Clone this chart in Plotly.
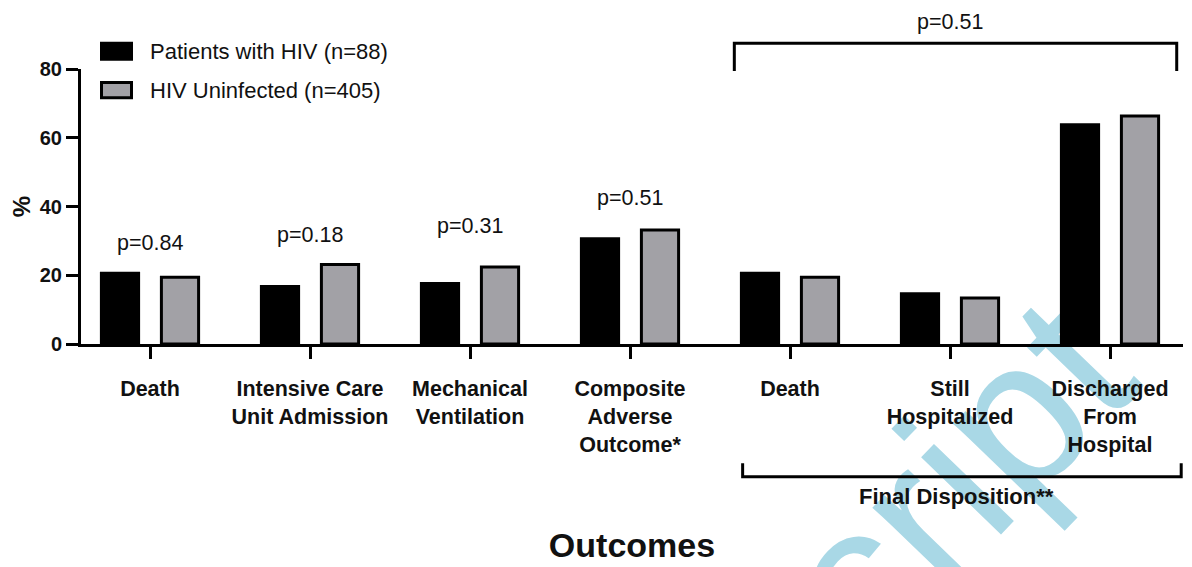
import plotly.graph_objects as go

categories = [
    "Death",
    "Intensive Care<br>Unit Admission",
    "Mechanical<br>Ventilation",
    "Composite<br>Adverse<br>Outcome*",
    "Death",
    "Still<br>Hospitalized",
    "Discharged<br>From<br>Hospital",
]
hiv_values = [20.6, 16.7, 17.6, 30.6, 20.6, 14.6, 63.8]
uninfected_values = [19.4, 23.1, 22.4, 33.2, 19.4, 13.4, 66.3]
series_names = ["Patients with HIV (n=88)", "HIV Uninfected (n=405)"]
p_labels = ["p=0.84", "p=0.18", "p=0.31", "p=0.51"]
p_label_y = [29.5, 31.6, 34.3, 42.6]
disposition_p = "p=0.51"
y_ticks = [0, 20, 40, 60, 80]

FONT = "Liberation Sans, Arial, Helvetica, sans-serif"
BLACK = "#000000"
GRAY = "#a2a1a6"
TXT = "#111111"

x_pos = list(range(len(categories)))

# page offset (browser body margin) and figure geometry
OFF = 8
W, H = 1184, 559
L, R, T, B = 73, 9, 61, 223
pw, ph = W - L - R, H - T - B
STEP = 160  # pixels per category


def px(sx):
    """screen x -> paper x"""
    return (sx - OFF - L) / pw


def py(sy):
    """screen y -> paper y"""
    return (H - B - (sy - OFF)) / ph


fig = go.Figure()
fig.add_trace(go.Bar(
    x=x_pos, y=hiv_values, name=series_names[0],
    marker=dict(color=BLACK, line=dict(color=BLACK, width=3)),
    showlegend=False,
))
fig.add_trace(go.Bar(
    x=x_pos, y=uninfected_values, name=series_names[1],
    marker=dict(color=GRAY, line=dict(color=BLACK, width=3)),
    showlegend=False,
))

annotations = []
for i, (lab, yv) in enumerate(zip(p_labels, p_label_y)):
    annotations.append(dict(
        text=lab, x=i, y=yv, xref="x", yref="y", showarrow=False,
        xanchor="center", yanchor="middle",
        font=dict(family=FONT, size=21.5, color=TXT),
    ))
annotations.append(dict(
    text=disposition_p, x=5, y=py(21.7), xref="x", yref="paper", showarrow=False,
    xanchor="center", yanchor="middle",
    font=dict(family=FONT, size=21.5, color=TXT),
))
annotations.append(dict(
    text="<b>Final Disposition**</b>", x=5.04, y=py(496.7), xref="x", yref="paper",
    showarrow=False, xanchor="center", yanchor="middle",
    font=dict(family=FONT, size=22, color=TXT),
))
# legend text
for name, yc in zip(series_names, [51.7, 90.2]):
    annotations.append(dict(
        text=name, x=px(148), y=py(yc), xref="paper", yref="paper", showarrow=False,
        xanchor="left", yanchor="middle",
        font=dict(family=FONT, size=22, color=TXT),
    ))

shapes = []
# watermark, drawn beneath everything
shapes.append(dict(
    type="rect", xref="paper", yref="paper", layer="below",
    x0=px(722) - 0.01, x1=px(722) + 0.01, y0=py(690) - 0.01, y1=py(690) + 0.01,
    line=dict(width=0), fillcolor="rgba(0,0,0,0)",
    label=dict(text="Manuscript", textposition="middle center", textangle=-46,
               font=dict(family=FONT, size=210, color="#a9d8e6")),
))
# legend swatches
shapes.append(dict(type="rect", xref="paper", yref="paper",
                   x0=px(101.5), x1=px(131.5), y0=py(43.2), y1=py(59.2),
                   fillcolor=BLACK, line=dict(color=BLACK, width=3)))
shapes.append(dict(type="rect", xref="paper", yref="paper",
                   x0=px(101.5), x1=px(131.5), y0=py(82.5), y1=py(97.8),
                   fillcolor=GRAY, line=dict(color=BLACK, width=3)))
# top bracket
shapes.append(dict(type="path", xref="x", yref="paper",
                   path=f"M 3.652,{py(71)} L 3.652,{py(43.3)} L 6.417,{py(43.3)} L 6.417,{py(71)}",
                   line=dict(color=BLACK, width=3)))
# bottom bracket
shapes.append(dict(type="path", xref="x", yref="paper",
                   path=f"M 3.704,{py(463.3)} L 3.704,{py(476.7)} L 6.445,{py(476.7)} L 6.445,{py(463.3)}",
                   line=dict(color=BLACK, width=3)))

x0 = -(150 - OFF - L) / STEP
fig.update_layout(
    width=W, height=H,
    margin=dict(l=L, r=R, t=T, b=B, autoexpand=False),
    paper_bgcolor="white", plot_bgcolor="white",
    barmode="group", bargap=0.25, bargroupgap=0.38,
    font=dict(family=FONT, color=TXT),
    annotations=annotations, shapes=shapes,
    xaxis=dict(
        range=[x0, x0 + pw / STEP],
        tickmode="array", tickvals=x_pos, ticktext=categories,
        ticks="outside", ticklen=12, tickwidth=3, tickcolor=BLACK,
        ticklabelstandoff=11,
        showline=True, linewidth=3, linecolor=BLACK,
        showgrid=False, zeroline=False,
        tickfont=dict(family=FONT, size=21.5, color=TXT, weight="bold"),
        title=dict(text="Outcomes", standoff=78,
                   font=dict(family=FONT, size=34, color=TXT, weight="bold")),
        fixedrange=True,
    ),
    yaxis=dict(
        range=[0, 80], tickvals=y_ticks,
        ticks="outside", ticklen=12, tickwidth=3, tickcolor=BLACK,
        showline=True, linewidth=3, linecolor=BLACK,
        showgrid=False, zeroline=False,
        tickfont=dict(family=FONT, size=20, color=TXT, weight="bold"),
        title=dict(text="%", standoff=6,
                   font=dict(family=FONT, size=24, color=TXT, weight="bold")),
        fixedrange=True,
    ),
)

fig.write_html("out.html")
